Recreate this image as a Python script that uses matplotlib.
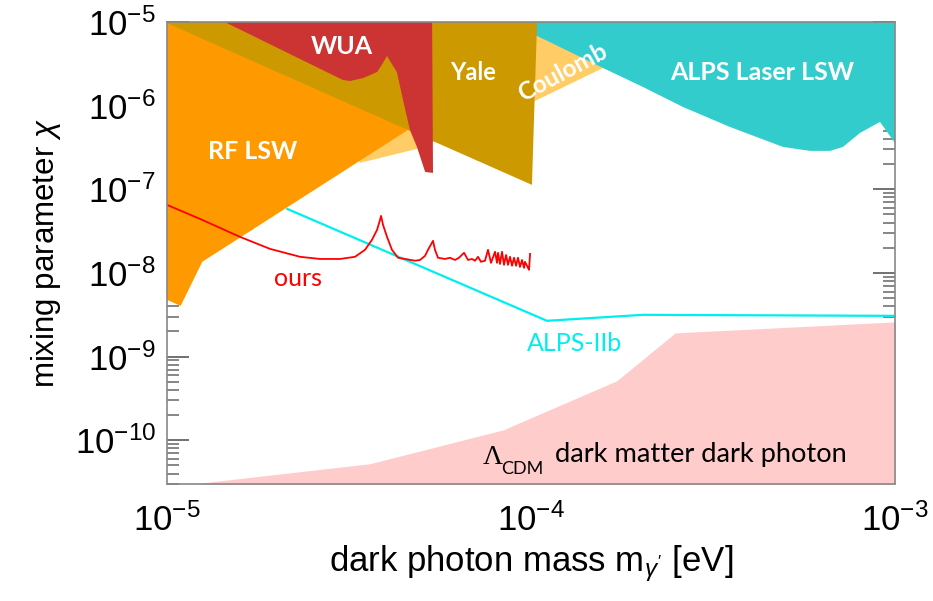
import numpy as np
import matplotlib
matplotlib.use("Agg")
import matplotlib.pyplot as plt

plt.rcParams['font.family'] = ['Liberation Sans', 'DejaVu Sans']
plt.rcParams['mathtext.fontset'] = 'custom'
plt.rcParams['mathtext.rm'] = 'Liberation Sans'
plt.rcParams['mathtext.it'] = 'Liberation Sans:italic'
plt.rcParams['mathtext.bf'] = 'Liberation Sans:bold'

# excluded regions (mass in eV, mixing parameter chi)
coulomb_m = [3.39e-5, 4.86e-5, 1.039e-4, 1.577e-4, 2.12e-4, 2.12e-4, 2.32e-5]
coulomb_chi = [2.07e-7, 3.04e-7, 1.17e-6, 2.82e-6, 3.5e-6, 1e-5, 1e-5]

alps_laser_m = [1.0e-4, 1.0e-4, 1.577e-4, 2.031e-4, 2.616e-4, 3.522e-4, 4.924e-4,
                5.842e-4, 6.63e-4, 7.196e-4, 8.014e-4, 9.095e-4, 1e-3, 1e-3]
alps_laser_chi = [1e-5, 7.39e-6, 2.82e-6, 1.67e-6, 9.64e-7, 5.56e-7, 3.21e-7,
                  2.88e-7, 2.88e-7, 3.21e-7, 4.72e-7, 6.39e-7, 3.58e-7, 1e-5]

# Yale region; the band to the left runs on under the RF LSW fill
yale_m = [1.0e-5, 1.039e-4, 1.006e-4, 4.59e-5, 1.0e-5]
yale_chi = [1e-5, 1e-5, 1.13e-7, 5.12e-7, 5e-6]

rf_m = [1.0e-5, 4.59e-5, 1.25e-5, 1.09e-5, 1.0e-5]
rf_chi = [9.7e-6, 5.12e-7, 1.36e-8, 4.04e-9, 4.77e-9]

wua_m = [1.44e-5, 3.04e-5, 3.18e-5, 3.46e-5, 3.78e-5, 3.92e-5, 4.02e-5, 4.28e-5,
         4.45e-5, 4.65e-5, 4.86e-5, 5.12e-5, 5.38e-5, 5.35e-5]
wua_chi = [1e-5, 2.03e-6, 1.97e-6, 2.14e-6, 2.53e-6, 3.24e-6, 3.92e-6, 2.53e-6,
           1.17e-6, 5.12e-7, 3.21e-7, 1.61e-7, 1.57e-7, 1e-5]

cdm_m = [1.25e-5, 3.61e-5, 8.38e-5, 1.72e-4, 2.49e-4, 1e-3]
cdm_chi = [3.10e-11, 5.24e-11, 1.33e-10, 5.14e-10, 1.92e-9, 2.60e-9]

# sensitivity curves
alps2_m = [2.14e-5, 1.106e-4, 2.03e-4, 1e-3]
alps2_chi = [5.83e-8, 2.68e-9, 3.16e-9, 3.07e-9]

ours_m = [1.000e-5, 1.232e-5, 1.587e-5, 1.919e-5, 2.320e-5, 2.633e-5, 2.988e-5, 3.285e-5,
          3.499e-5, 3.657e-5, 3.776e-5, 3.848e-5, 3.873e-5, 3.922e-5, 4.022e-5, 4.150e-5,
          4.311e-5, 4.507e-5, 4.801e-5, 4.955e-5, 5.115e-5, 5.212e-5, 5.380e-5, 5.448e-5,
          5.552e-5, 5.803e-5, 5.990e-5, 6.182e-5, 6.341e-5, 6.547e-5, 6.714e-5, 6.886e-5,
          7.018e-5, 7.152e-5, 7.288e-5, 7.475e-5, 7.619e-5, 7.765e-5, 7.964e-5, 8.066e-5,
          8.116e-5, 8.220e-5, 8.325e-5, 8.431e-5, 8.539e-5, 8.646e-5, 8.757e-5, 8.869e-5,
          8.982e-5, 9.097e-5, 9.211e-5, 9.328e-5, 9.448e-5, 9.568e-5, 9.627e-5, 9.813e-5,
          9.876e-5, 9.94e-5]
ours_chi = [6.51e-8, 4.43e-8, 2.70e-8, 1.94e-8, 1.56e-8, 1.47e-8, 1.47e-8, 1.56e-8,
            1.89e-8, 2.49e-8, 3.27e-8, 4.31e-8, 4.81e-8, 3.76e-8, 2.70e-8, 1.89e-8,
            1.52e-8, 1.47e-8, 1.40e-8, 1.43e-8, 1.60e-8, 1.89e-8, 2.42e-8, 1.89e-8,
            1.52e-8, 1.47e-8, 1.52e-8, 1.43e-8, 1.52e-8, 1.74e-8, 1.43e-8, 1.47e-8,
            1.40e-8, 1.56e-8, 1.36e-8, 1.40e-8, 1.89e-8, 1.32e-8, 1.79e-8, 1.32e-8,
            1.74e-8, 1.28e-8, 1.79e-8, 1.25e-8, 1.64e-8, 1.25e-8, 1.56e-8, 1.22e-8,
            1.52e-8, 1.22e-8, 1.52e-8, 1.18e-8, 1.43e-8, 1.15e-8, 1.36e-8, 1.15e-8,
            1.09e-8, 1.69e-8]

x_ticks = [1e-5, 1e-4, 1e-3]
y_ticks = [1e-10, 1e-9, 1e-8, 1e-7, 1e-6, 1e-5]

fig = plt.figure(figsize=(9.33, 6.01), dpi=100)
ax = fig.add_axes([167 / 933, 1 - 484 / 601, 728 / 933, 462 / 601])
ax.set_xscale('log')
ax.set_yscale('log')
ax.set_xlim(1e-5, 1e-3)
ax.set_ylim(3e-11, 1e-5)
ax.set_axisbelow(True)

ax.fill(coulomb_m, coulomb_chi, color='#FFCC66', lw=0, zorder=1.0)
ax.fill(alps_laser_m, alps_laser_chi, color='#33CCCC', lw=0, zorder=1.1)
ax.fill(yale_m, yale_chi, color='#CC9900', lw=0, zorder=1.2)
ax.fill(rf_m, rf_chi, color='#FF9900', lw=0, zorder=1.3)
ax.fill(wua_m, wua_chi, color='#CC3333', lw=0, zorder=1.4)
ax.fill_between(cdm_m, cdm_chi, 1e-12, color='#FFCCCC', lw=0, zorder=1.5)

ax.plot(alps2_m, alps2_chi, color='#00EEEE', lw=1.6, zorder=2)
ax.plot(ours_m, ours_chi, color='#FF0000', lw=1.3, zorder=2.1)

# labels inside
lab = dict(transform=ax.transAxes, ha='center', va='center', color='white',
           fontweight='bold', family='Lato', zorder=3)
ax.text(0.240, 0.946, 'WUA', fontsize=18, **lab)
ax.text(0.118, 0.719, 'RF LSW', fontsize=18, **lab)
ax.text(0.420, 0.890, 'Yale', fontsize=17, **lab)
ax.text(0.543, 0.890, 'Coulomb', fontsize=17.5, rotation=28, **lab)
ax.text(0.817, 0.890, 'ALPS Laser LSW', fontsize=18, **lab)

ax.text(0.180, 0.444, 'ours', transform=ax.transAxes, ha='center', va='center',
        color='#FF0000', fontsize=18, family='Lato', zorder=3)
ax.text(0.560, 0.305, 'ALPS-IIb', transform=ax.transAxes, ha='center', va='center',
        color='#00EEEE', fontsize=18, family='Lato', zorder=3)
ax.text(0.448, 0.058, '\u039b', transform=ax.transAxes, ha='center', va='center',
        fontsize=20, family='Liberation Serif', zorder=3)
ax.text(0.459, 0.033, 'CDM', transform=ax.transAxes, ha='left', va='center',
        fontsize=13, family='Lato', zorder=3)
ax.text(0.733, 0.063, 'dark matter dark photon', transform=ax.transAxes, ha='center',
        va='center', fontsize=19.6, family='Lato', zorder=3)

# ticks only inside the visible range
ax.set_xticks(x_ticks)
ax.set_xticks([], minor=True)
ax.set_yticks(y_ticks)
y_minor = [k * d for d in y_ticks[:-1] + [1e-11] for k in range(2, 10)]
ax.set_yticks([v for v in y_minor if 3e-11 <= v <= 1e-5], minor=True)
ax.yaxis.set_minor_formatter(plt.NullFormatter())

for s in ax.spines.values():
    s.set_color('#888888')
    s.set_linewidth(1.2)
ax.tick_params(which='both', direction='in', right=True, colors='#666666',
               labelcolor='black', labelsize=25)
ax.tick_params(which='major', length=16, width=1.3, pad=8)
ax.tick_params(which='minor', length=8.5, width=1.1)
ax.xaxis.set_tick_params(which='both', length=0, pad=14)

ax.set_xlabel("dark photon mass m$_{\\gamma'}$ [eV]", fontsize=25, labelpad=4)
ax.set_ylabel('mixing parameter $\\chi$', fontsize=22.5, labelpad=8)

fig.savefig('out.png', dpi=100)
